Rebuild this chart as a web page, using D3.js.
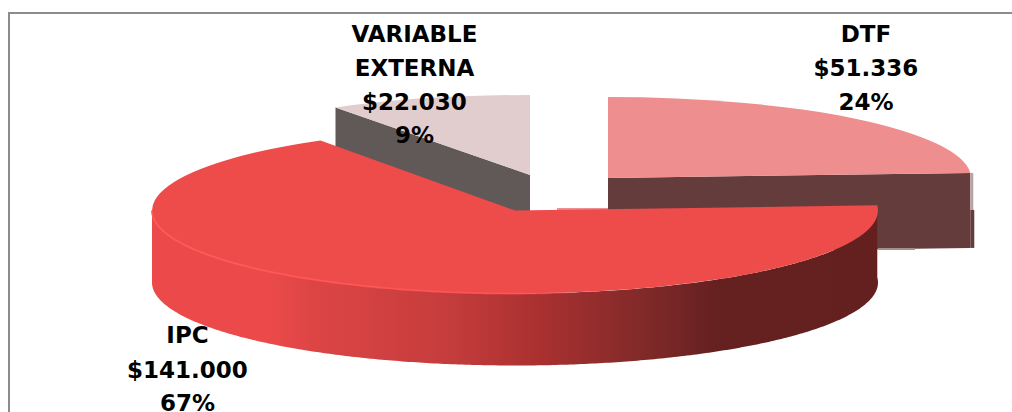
<!DOCTYPE html>
<html><head><meta charset="utf-8">
<style>html,body{margin:0;padding:0;background:#fff;overflow:hidden}svg{display:block}text{font-family:"DejaVu Sans",sans-serif;font-weight:bold;fill:#000;text-anchor:middle}</style>
<script src="https://cdn.jsdelivr.net/npm/d3@7"></script></head><body><script>
const categories = ["DTF","IPC","VARIABLE EXTERNA"];
const amounts = [51336,141000,22030];
const amountLabels = ["$51.336","$141.000","$22.030"];
const percents = [24,67,9];
const percentLabels = percents.map(d=>d+"%");
const W=1012,H=412;
const placement=[
 {cx:608,cy:178,rx:363,ry:81,depth:75,top:"#ee8e8e",side:"#653c3c",labelX:866,labelY:[42,76,110],lines:["DTF"]},
 {cx:515,cy:210.5,rx:363,ry:83,depth:72,top:"#ee4b4b",side:"url(#wall)",labelX:187.5,labelY:[343,377.5,411],lines:["IPC"]},
 {cx:530,cy:175,rx:363,ry:80,depth:72,top:"#e1cdcd",side:"#615957",labelX:414.5,labelY:[41.5,75.5,110,143],lines:["VARIABLE","EXTERNA"]}
];
const svg=d3.select("body").append("svg").attr("width",W).attr("height",H);
const defs=svg.append("defs");
const wall=defs.append("linearGradient").attr("id","wall").attr("gradientUnits","userSpaceOnUse").attr("x1",152).attr("x2",878).attr("y1",0).attr("y2",0);
[[0,"#ec4a4a"],[.16,"#ec4a4a"],[.22,"#dd4545"],[.41,"#c53c3c"],[.534,"#aa3030"],[.67,"#832a2a"],[.78,"#652020"],[1,"#641f1f"]].forEach(s=>wall.append("stop").attr("offset",s[0]).attr("stop-color",s[1]));
const rim=defs.append("linearGradient").attr("id","rim").attr("gradientUnits","userSpaceOnUse").attr("x1",152).attr("x2",610).attr("y1",0).attr("y2",0);
[[0,"#ff5a5a",1],[.75,"#ff5252",.9],[1,"#ee4b4b",0]].forEach(s=>rim.append("stop").attr("offset",s[0]).attr("stop-color",s[1]).attr("stop-opacity",s[2]));
const line=d3.line();
svg.append("path").attr("d",line([[9,H],[9,13],[W,13]])).attr("fill","none").attr("stroke","#8c8c8c").attr("stroke-width",2);
const pie=d3.pie().sort(null).value(d=>d)(percents);
const arc=d3.arc().innerRadius(0);
const pt=(p,a,dy=0)=>[p.cx+p.rx*Math.sin(a),p.cy-p.ry*Math.cos(a)+dy];
[2,0,1].forEach(i=>{
 const s=pie[i],p=placement[i];
 const g=svg.append("g");
 if(i===0||i===2){
   const a=i===0?s.endAngle:s.startAngle;
   const apex=[p.cx,p.cy],e=pt(p,a);
   g.append("path").attr("d",line([apex,e,[e[0],e[1]+p.depth],[apex[0],apex[1]+p.depth]])+"Z").attr("fill",p.side);
   if(i===0){
     // soft right edge and lower shadow of the lifted slice
     g.append("path").attr("d",line([[e[0],e[1]],[e[0]+3,e[1]],[e[0]+3,e[1]+37],[e[0],e[1]+37]])+"Z").attr("fill","#b8a3a3");
     g.append("path").attr("d",line([[e[0],e[1]+37],[e[0]+4,e[1]+37],[e[0]+4,e[1]+p.depth],[e[0],e[1]+p.depth]])+"Z").attr("fill",p.side);
     g.append("path").attr("d",line([[878,e[1]+p.depth],[915,e[1]+p.depth],[915,e[1]+p.depth+2],[878,e[1]+p.depth+2]])+"Z").attr("fill","#a58f8f");
     g.append("path").attr("d",line([[557,208],[608,208],[608,212],[557,212]])+"Z").attr("fill",p.top);
   }
 }
 if(i===1){
   const a0=s.startAngle,a1=Math.min(s.endAngle,Math.PI*1.5);
   const n=d3.range(a0,a1,.01).concat([a1]);
   const upper=n.map(a=>pt(p,a)),lower=n.map(a=>pt(p,a,p.depth)).reverse();
   g.append("path").attr("d",line(upper.concat(lower))+"Z").attr("fill",p.side);
 }
 arc.outerRadius(p.rx);
 g.append("path").attr("d",arc({startAngle:s.startAngle,endAngle:s.endAngle}))
  .attr("transform",`translate(${p.cx},${p.cy}) scale(1,${p.ry/p.rx})`).attr("fill",p.top);
 if(i===1){
   const n=d3.range(Math.PI*1.5,Math.PI*0.95,-.01);
   g.append("path").attr("d",line(n.map(a=>pt(p,a))))
    .attr("fill","none").attr("stroke","url(#rim)").attr("stroke-width",1.8);
 }
});
placement.forEach((p,i)=>{
 const t=p.lines.concat([amountLabels[i],percentLabels[i]]);
 t.forEach((l,j)=>svg.append("text").attr("x",p.labelX).attr("y",p.labelY[j]).attr("font-size",23).text(l));
});
</script></body></html>
